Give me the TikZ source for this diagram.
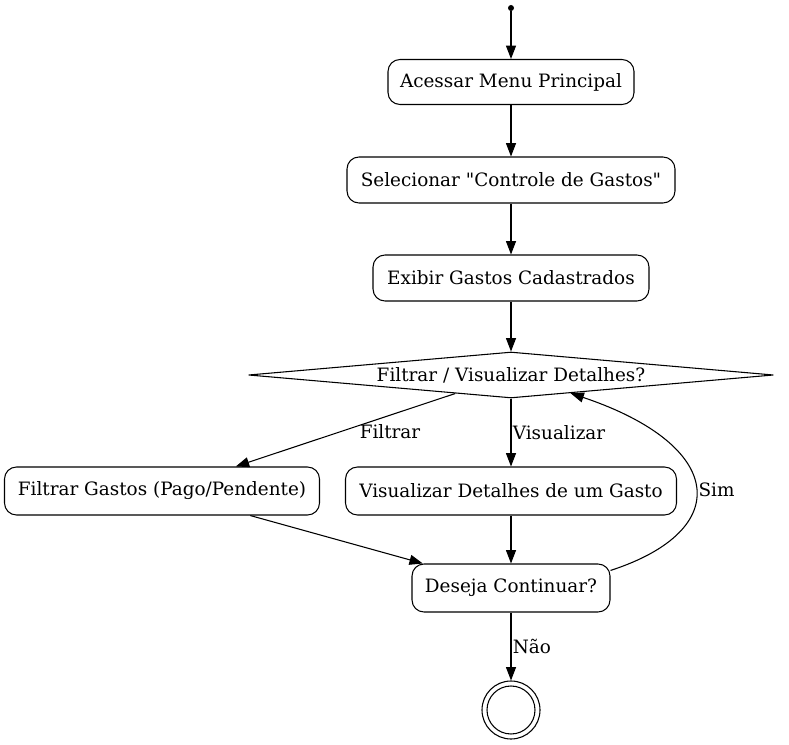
\documentclass[tikz,border=0pt]{standalone}
\usepackage{fontspec}
\setmainfont{DejaVu Serif}[Ligatures=TeXOff]
\usetikzlibrary{shapes.geometric,arrows.meta}
\begin{document}
\begin{tikzpicture}[x=0.75pt,y=-0.75pt,
  every node/.style={font=\fontsize{13.8pt}{15pt}\selectfont},
  act/.style={draw,rounded corners=9pt,inner sep=0pt,minimum height=35pt,line width=0.8pt},
  dec/.style={draw,diamond,aspect=11,inner sep=0pt,minimum width=393.75pt,minimum height=34.5pt,line width=0.8pt},
  flow/.style={-{Triangle[length=10pt,width=7.5pt]},line width=0.8pt},
  lbl/.style={inner sep=1pt}]
\useasboundingbox (0,0) rectangle (789,745);
\node[circle,fill,inner sep=0pt,minimum size=4.5pt] (s) at (511,8) {};
\node[act,minimum width=184.5pt,minimum height=33.75pt] (a) at (511,82) {Acessar Menu Principal};
\node[act,minimum width=246pt,minimum height=34.5pt] (b) at (511,180) {Selecionar "Controle de Gastos"};
\node[act,minimum width=207pt,minimum height=34.5pt] (c) at (511,278) {Exibir Gastos Cadastrados};
\node[dec] (d) at (511,375) {Filtrar / Visualizar Detalhes?};
\node[act,minimum width=236.25pt,minimum height=36pt] (f) at (162,491) {Filtrar Gastos (Pago/Pendente)};
\node[act,minimum width=248.25pt,minimum height=36pt] (v) at (511,491) {Visualizar Detalhes de um Gasto};
\node[act,minimum width=148.5pt,minimum height=36pt] (q) at (511,588) {Deseja Continuar?};
\node[circle,draw,line width=0.8pt,minimum size=43.5pt,inner sep=0pt] (e) at (511,710) {};
\node[circle,draw,line width=0.8pt,minimum size=36pt,inner sep=0pt] (ei) at (511,710) {};
\draw[flow] (s) -- (a);
\draw[flow] (a) -- (b);
\draw[flow] (b) -- (c);
\draw[flow] (c) -- (d);
\draw[flow] (d) -- (f);
\node[lbl] (lf) at (390,432) {Filtrar};
\draw[flow] (d) -- node[lbl,anchor=west] (lv) {Visualizar} (v);
\draw[flow] (f) -- (q);
\draw[flow] (v) -- (q);
\draw[flow] (q.10) .. controls (735,530) and (725,445) .. (d.-17);
\node[lbl,anchor=west] (ls) at (697,490) {Sim};
\draw[flow] (q) -- node[lbl,anchor=west] (ln) {Não} (e);
\end{tikzpicture}
\end{document}
